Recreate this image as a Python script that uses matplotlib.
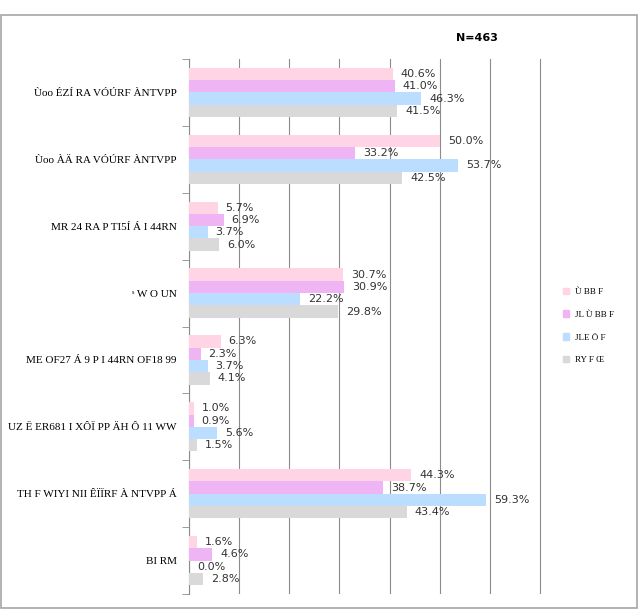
import matplotlib
matplotlib.use("Agg")
import matplotlib.pyplot as plt
import matplotlib.patches as mpatches
import numpy as np

categories = [
    "Ùoo ÉZÍ RA VÓÚRF ÀNTVPP",
    "Ùoo ÀÄ RA VÓÚRF ÀNTVPP",
    "MR 24 RA P TI5Í Á I 44RN",
    "ˢ W O UN",
    "ME OF27 Á 9 P I 44RN OF18 99",
    "UZ Ë ER681 I XÔÏ PP ÄH Ô 11 WW",
    "TH F WIYI NII ÊÏÏRF À NTVPP Á",
    "BI RM",
]
series_names = ["Ù BB F", "JL Ù BB F", "JLE Ö F", "RY F Œ"]
series_values = [
    [40.6, 50.0, 5.7, 30.7, 6.3, 1.0, 44.3, 1.6],
    [41.0, 33.2, 6.9, 30.9, 2.3, 0.9, 38.7, 4.6],
    [46.3, 53.7, 3.7, 22.2, 3.7, 5.6, 59.3, 0.0],
    [41.5, 42.5, 6.0, 29.8, 4.1, 1.5, 43.4, 2.8],
]
colors = ["#FFD5E5", "#EEB4F4", "#BBDDFF", "#D9D9D9"]
note = "N=463"

fig = plt.figure(figsize=(6.39, 6.10), dpi=100)
ax = fig.add_axes([189/639, 1-594/610, (543-189)/639, (594-59)/610])

n = len(categories)
y = np.arange(n)
h = 0.184
for i, (vals, c) in enumerate(zip(series_values, colors)):
    pos = y + (i - 1.5) * h
    ax.barh(pos, vals, height=h, color=c, label=series_names[i], zorder=3)
    for p, v in zip(pos, vals):
        ax.text(v + 1.6, p, f"{v:.1f}%", va="center", ha="left",
                fontsize=8, color="#333333", zorder=4)

ax.set_xlim(0, 70.6)
ax.set_ylim(n - 0.5, -0.5)
ax.set_xticks(np.arange(0, 71, 10))
ax.set_xticklabels([])
ax.tick_params(axis="x", length=0)
ax.grid(axis="x", color="#8c8c8c", linewidth=0.8, zorder=0)
ax.set_yticks(y)
ax.set_yticklabels(categories, fontsize=8, family=["Liberation Serif", "DejaVu Sans"])
ax.tick_params(axis="y", length=0, pad=9)
ax.set_yticks(np.arange(-0.5, n, 1), minor=True)
ax.tick_params(axis="y", which="minor", length=5, color="#8c8c8c")
for s in ["top", "right", "bottom"]:
    ax.spines[s].set_visible(False)
ax.spines["left"].set_color("#8c8c8c")

fig.text(477/639, 1-38/610, note, fontsize=8, fontweight="bold", ha="center", va="center")

handles = [mpatches.Patch(color=c) for c in colors]
fig.legend(handles, series_names, loc="center left", bbox_to_anchor=(555/639, 1-326/610),
           frameon=False, handlelength=0.7, handleheight=0.7,
           labelspacing=1.6, handletextpad=0.6,
           prop={"family": ["Liberation Serif", "DejaVu Sans"], "size": 6.5})

fig.patches.append(mpatches.Rectangle((1/639, 2/610), 636/639, 593/610, transform=fig.transFigure,
                                      fill=False, edgecolor="#a6a6a6", linewidth=1.2))

fig.savefig("out.png", dpi=100)
